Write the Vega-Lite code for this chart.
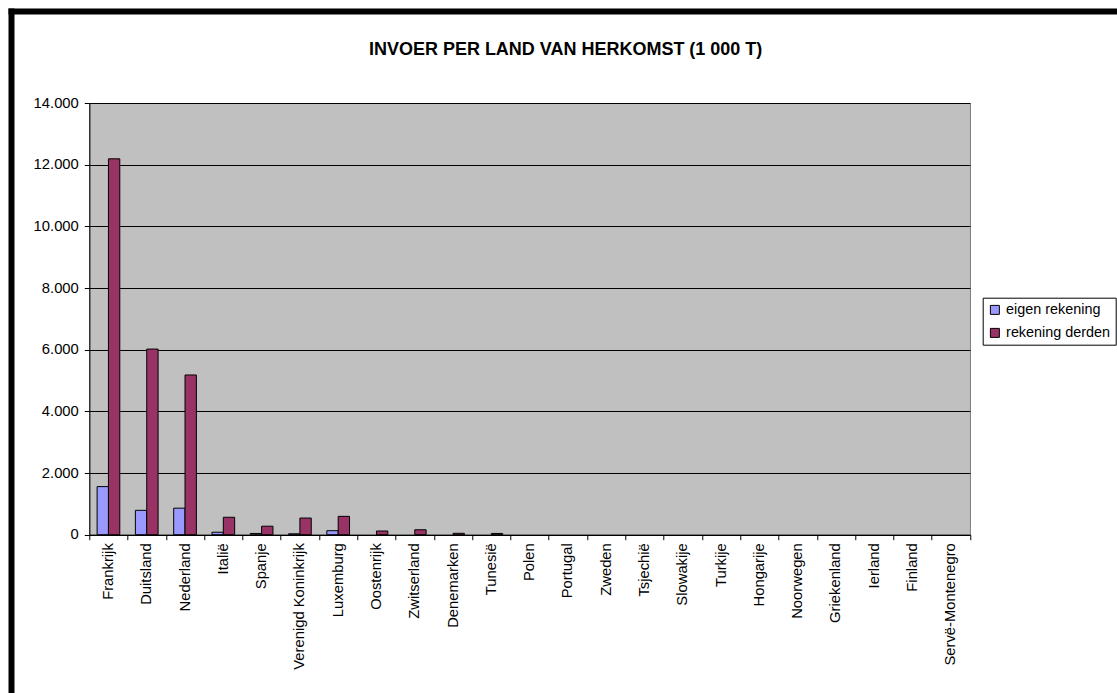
{
  "$schema": "https://vega.github.io/schema/vega-lite/v6.json",
  "autosize": "none",
  "padding": {"left": 89.3, "top": 103, "right": 146.7, "bottom": 158.3},
  "width": 880.7,
  "height": 431.7,
  "background": "white",
  "config": {
    "font": "Liberation Sans",
    "view": {"fill": "#C0C0C0", "stroke": "#808080", "strokeWidth": 1}
  },
  "title": {
    "text": "INVOER PER LAND VAN HERKOMST (1 000 T)",
    "font": "Liberation Sans",
    "fontSize": 18,
    "fontWeight": "bold",
    "color": "black",
    "anchor": "middle",
    "frame": "group",
    "baseline": "alphabetic",
    "offset": 0,
    "dx": 36,
    "dy": 62
  },
  "data": {
    "values": [
      {"land": "Frankrijk", "reeks": "eigen rekening", "waarde": 1560},
      {"land": "Frankrijk", "reeks": "rekening derden", "waarde": 12190},
      {"land": "Duitsland", "reeks": "eigen rekening", "waarde": 790},
      {"land": "Duitsland", "reeks": "rekening derden", "waarde": 6020},
      {"land": "Nederland", "reeks": "eigen rekening", "waarde": 860},
      {"land": "Nederland", "reeks": "rekening derden", "waarde": 5180},
      {"land": "Italië", "reeks": "eigen rekening", "waarde": 80},
      {"land": "Italië", "reeks": "rekening derden", "waarde": 565},
      {"land": "Spanje", "reeks": "eigen rekening", "waarde": 40},
      {"land": "Spanje", "reeks": "rekening derden", "waarde": 275},
      {"land": "Verenigd Koninkrijk", "reeks": "eigen rekening", "waarde": 30},
      {"land": "Verenigd Koninkrijk", "reeks": "rekening derden", "waarde": 540},
      {"land": "Luxemburg", "reeks": "eigen rekening", "waarde": 130},
      {"land": "Luxemburg", "reeks": "rekening derden", "waarde": 595},
      {"land": "Oostenrijk", "reeks": "eigen rekening", "waarde": 0},
      {"land": "Oostenrijk", "reeks": "rekening derden", "waarde": 120},
      {"land": "Zwitserland", "reeks": "eigen rekening", "waarde": 0},
      {"land": "Zwitserland", "reeks": "rekening derden", "waarde": 160},
      {"land": "Denemarken", "reeks": "eigen rekening", "waarde": 0},
      {"land": "Denemarken", "reeks": "rekening derden", "waarde": 45},
      {"land": "Tunesië", "reeks": "eigen rekening", "waarde": 0},
      {"land": "Tunesië", "reeks": "rekening derden", "waarde": 40},
      {"land": "Polen", "reeks": "eigen rekening", "waarde": 0},
      {"land": "Polen", "reeks": "rekening derden", "waarde": 0},
      {"land": "Portugal", "reeks": "eigen rekening", "waarde": 0},
      {"land": "Portugal", "reeks": "rekening derden", "waarde": 0},
      {"land": "Zweden", "reeks": "eigen rekening", "waarde": 0},
      {"land": "Zweden", "reeks": "rekening derden", "waarde": 0},
      {"land": "Tsjechië", "reeks": "eigen rekening", "waarde": 0},
      {"land": "Tsjechië", "reeks": "rekening derden", "waarde": 0},
      {"land": "Slowakije", "reeks": "eigen rekening", "waarde": 0},
      {"land": "Slowakije", "reeks": "rekening derden", "waarde": 0},
      {"land": "Turkije", "reeks": "eigen rekening", "waarde": 0},
      {"land": "Turkije", "reeks": "rekening derden", "waarde": 0},
      {"land": "Hongarije", "reeks": "eigen rekening", "waarde": 0},
      {"land": "Hongarije", "reeks": "rekening derden", "waarde": 0},
      {"land": "Noorwegen", "reeks": "eigen rekening", "waarde": 0},
      {"land": "Noorwegen", "reeks": "rekening derden", "waarde": 0},
      {"land": "Griekenland", "reeks": "eigen rekening", "waarde": 0},
      {"land": "Griekenland", "reeks": "rekening derden", "waarde": 0},
      {"land": "Ierland", "reeks": "eigen rekening", "waarde": 0},
      {"land": "Ierland", "reeks": "rekening derden", "waarde": 0},
      {"land": "Finland", "reeks": "eigen rekening", "waarde": 0},
      {"land": "Finland", "reeks": "rekening derden", "waarde": 0},
      {"land": "Servë-Montenegro", "reeks": "eigen rekening", "waarde": 0},
      {"land": "Servë-Montenegro", "reeks": "rekening derden", "waarde": 0}
    ]
  },
  "layer": [
    {
      "mark": {"type": "bar", "stroke": "black", "strokeWidth": 1},
      "encoding": {
        "x": {
          "field": "land",
          "type": "nominal",
          "sort": null,
          "scale": {"paddingInner": 0, "paddingOuter": 0},
          "axis": {
            "title": null,
            "tickBand": "extent",
            "labelAngle": -90,
            "labelFont": "Liberation Sans",
            "labelFontSize": 14.8,
            "labelColor": "black",
            "labelPadding": 3,
            "tickColor": "black",
            "tickSize": 5,
            "domainColor": "black",
            "grid": false
          }
        },
        "xOffset": {
          "field": "reeks",
          "type": "nominal",
          "sort": ["eigen rekening", "rekening derden"],
          "scale": {"paddingInner": 0, "paddingOuter": 0.687}
        },
        "y": {
          "field": "waarde",
          "type": "quantitative",
          "scale": {"domain": [0, 14000], "nice": false},
          "axis": {
            "title": null,
            "values": [0, 2000, 4000, 6000, 8000, 10000, 12000, 14000],
            "labelExpr": "replace(format(datum.value, ','), ',', '.')",
            "labelFont": "Liberation Sans",
            "labelFontSize": 14.8,
            "labelColor": "black",
            "labelPadding": 6,
            "tickColor": "black",
            "tickSize": 5,
            "domainColor": "black",
            "grid": true,
            "gridColor": "black",
            "gridOpacity": 1,
            "gridWidth": 1
          }
        },
        "strokeOpacity": {
          "condition": {"test": "datum.waarde == 0", "value": 0},
          "value": 1
        },
        "color": {
          "field": "reeks",
          "type": "nominal",
          "sort": ["eigen rekening", "rekening derden"],
          "scale": {"domain": ["eigen rekening", "rekening derden"], "range": ["#9999FF", "#993366"]},
          "legend": {
            "title": null,
            "orient": "none",
            "legendX": 893.4,
            "legendY": 194.7,
            "symbolType": "square",
            "symbolSize": 81,
            "symbolStrokeColor": "black",
            "symbolStrokeWidth": 1,
            "symbolOpacity": 1,
            "labelFont": "Liberation Sans",
            "labelFontSize": 14.4,
            "labelColor": "black",
            "labelOffset": 4,
            "strokeColor": "black",
            "fillColor": "white",
            "padding": 5,
            "rowPadding": 8
          }
        }
      }
    },
    {
      "mark": {"type": "point", "opacity": 0},
      "encoding": {
        "x": {
          "datum": 0,
          "type": "quantitative",
          "scale": {"domain": [0, 1], "range": [-81.3, 1100], "nice": false, "zero": false},
          "axis": {"orient": "top", "offset": 92, "domainWidth": 6, "domainColor": "black", "labels": false, "ticks": false, "grid": false, "title": null}
        },
        "y": {
          "datum": 0,
          "type": "quantitative",
          "scale": {"domain": [0, 1], "range": [600, -95], "nice": false, "zero": false},
          "axis": {"orient": "left", "offset": 78.3, "domainWidth": 6, "domainColor": "black", "labels": false, "ticks": false, "grid": false, "title": null}
        }
      }
    }
  ],
  "resolve": {
    "scale": {"x": "independent", "y": "independent"},
    "axis": {"x": "independent", "y": "independent"}
  }
}
